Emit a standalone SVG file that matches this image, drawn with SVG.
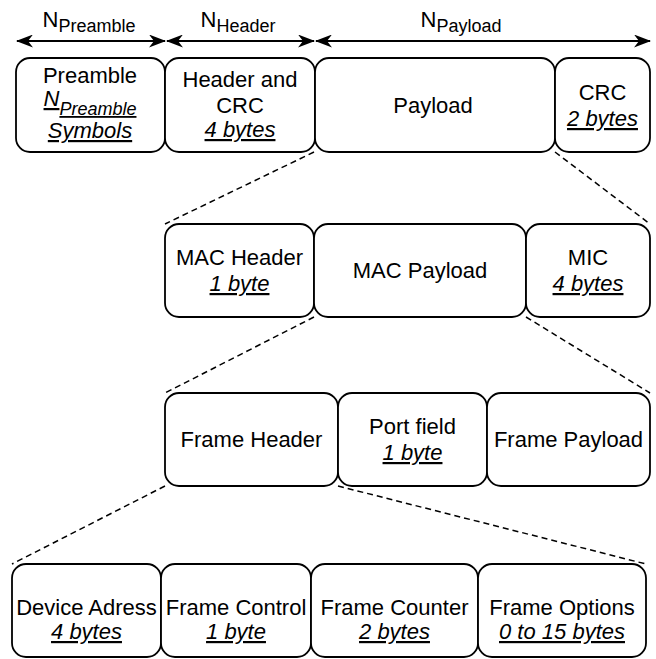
<svg xmlns="http://www.w3.org/2000/svg" width="656" height="659" viewBox="0 0 656 659">
<defs>
<style>
.box{fill:#fff;stroke:#000;stroke-width:1.8}
.t{font-family:"Liberation Sans",Arial,sans-serif;font-size:22px;fill:#000;text-anchor:middle}
.sub{font-size:18px}
.u{font-style:italic;text-decoration:underline}
.dash{fill:none;stroke:#000;stroke-width:1.5;stroke-dasharray:6 4}
.arr{fill:none;stroke:#000;stroke-width:2}
</style>
<marker id="ah" viewBox="0 0 17 13" refX="16" refY="6.5" markerWidth="17" markerHeight="13" markerUnits="userSpaceOnUse" orient="auto-start-reverse">
<path d="M0,0 L17,6.5 L0,13 L5,6.5 Z" fill="#000"/>
</marker>
</defs>
<rect width="656" height="659" fill="#fff"/>

<g id="connectors">
<line class="arr" x1="17" y1="41" x2="165" y2="41" marker-start="url(#ah)" marker-end="url(#ah)"/>
<line class="arr" x1="167" y1="41" x2="314" y2="41" marker-start="url(#ah)" marker-end="url(#ah)"/>
<line class="arr" x1="316" y1="41" x2="650" y2="41" marker-start="url(#ah)" marker-end="url(#ah)"/>
<line class="dash" x1="314" y1="152" x2="165" y2="224"/>
<line class="dash" x1="555" y1="152" x2="650" y2="224"/>
<line class="dash" x1="314" y1="317" x2="165" y2="393"/>
<line class="dash" x1="526" y1="317" x2="650" y2="393"/>
<line class="dash" x1="165" y1="486" x2="12" y2="564"/>
<line class="dash" x1="338" y1="486" x2="646" y2="564"/>
</g>

<g id="labels">
<text class="t" x="89" y="27">N<tspan class="sub" dy="5">Preamble</tspan></text>
<text class="t" x="238" y="27">N<tspan class="sub" dy="5">Header</tspan></text>
<text class="t" x="461" y="27">N<tspan class="sub" dy="5">Payload</tspan></text>
</g>

<g id="preamble">
<rect class="box" x="16" y="58" width="149" height="94" rx="14"/>
<text class="t" x="90" y="83">Preamble</text>
<text class="t" x="90" y="106"><tspan class="u">N</tspan><tspan class="u sub" dy="9">Preamble</tspan></text>
<text class="t" x="90" y="138"><tspan class="u">Symbols</tspan></text>
</g>
<g id="header-crc">
<rect class="box" x="165" y="58" width="150" height="94" rx="14"/>
<text class="t" x="240" y="87">Header and</text>
<text class="t" x="240" y="113">CRC</text>
<text class="t" x="240" y="137"><tspan class="u">4 bytes</tspan></text>
</g>
<g id="payload">
<rect class="box" x="315" y="58" width="240" height="94" rx="14"/>
<text class="t" x="433" y="113">Payload</text>
</g>
<g id="crc">
<rect class="box" x="555" y="58" width="95" height="94" rx="14"/>
<text class="t" x="602.5" y="100">CRC</text>
<text class="t" x="602.5" y="126"><tspan class="u">2 bytes</tspan></text>
</g>

<g id="mac-header">
<rect class="box" x="165" y="224" width="149" height="93" rx="14"/>
<text class="t" x="239.5" y="265">MAC Header</text>
<text class="t" x="239.5" y="291"><tspan class="u">1 byte</tspan></text>
</g>
<g id="mac-payload">
<rect class="box" x="314" y="224" width="212" height="93" rx="14"/>
<text class="t" x="420" y="278">MAC Payload</text>
</g>
<g id="mic">
<rect class="box" x="526" y="224" width="124" height="93" rx="14"/>
<text class="t" x="588" y="265">MIC</text>
<text class="t" x="588" y="291"><tspan class="u">4 bytes</tspan></text>
</g>

<g id="frame-header">
<rect class="box" x="165" y="393" width="173" height="93" rx="14"/>
<text class="t" x="251.5" y="447">Frame Header</text>
</g>
<g id="port-field">
<rect class="box" x="338" y="393" width="149" height="93" rx="14"/>
<text class="t" x="412.5" y="434">Port field</text>
<text class="t" x="412.5" y="460"><tspan class="u">1 byte</tspan></text>
</g>
<g id="frame-payload">
<rect class="box" x="487" y="393" width="163" height="93" rx="14"/>
<text class="t" x="568.5" y="447">Frame Payload</text>
</g>

<g id="device-adress">
<rect class="box" x="12" y="564" width="149" height="93" rx="14"/>
<text class="t" x="86.5" y="615">Device Adress</text>
<text class="t" x="86.5" y="639"><tspan class="u">4 bytes</tspan></text>
</g>
<g id="frame-control">
<rect class="box" x="161" y="564" width="150" height="93" rx="14"/>
<text class="t" x="236" y="615">Frame Control</text>
<text class="t" x="236" y="639"><tspan class="u">1 byte</tspan></text>
</g>
<g id="frame-counter">
<rect class="box" x="311" y="564" width="167" height="93" rx="14"/>
<text class="t" x="394.5" y="615">Frame Counter</text>
<text class="t" x="394.5" y="639"><tspan class="u">2 bytes</tspan></text>
</g>
<g id="frame-options">
<rect class="box" x="478" y="564" width="168" height="93" rx="14"/>
<text class="t" x="562" y="615">Frame Options</text>
<text class="t" x="562" y="639"><tspan class="u">0 to 15 bytes</tspan></text>
</g>
</svg>
